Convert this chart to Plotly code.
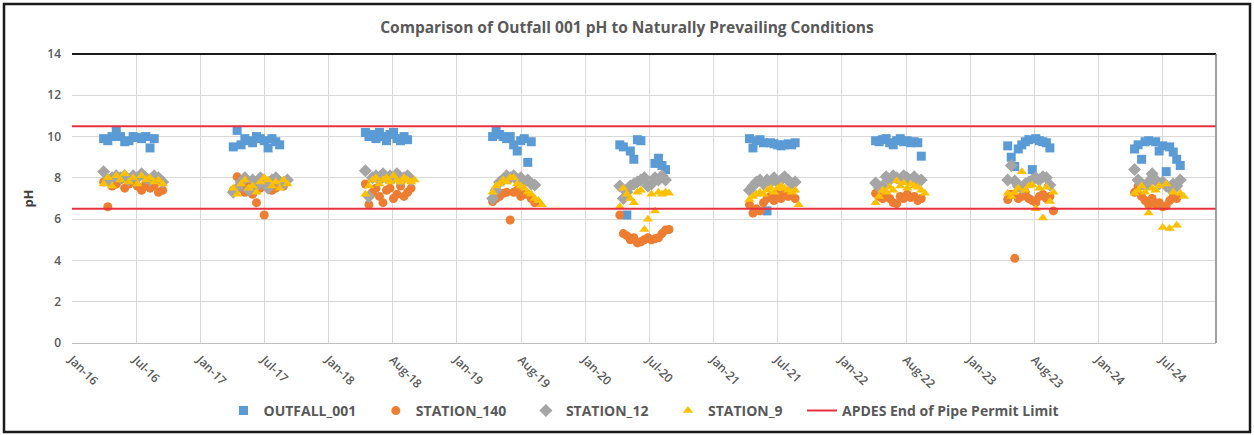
import plotly.graph_objects as go
import pandas as pd

# ---------------- data ----------------
tick_labels = ["Jan-16", "Jul-16", "Jan-17", "Jul-17", "Jan-18", "Aug-18", "Jan-19", "Aug-19",
               "Jan-20", "Jul-20", "Jan-21", "Jul-21", "Jan-22", "Aug-22", "Jan-23", "Aug-23",
               "Jan-24", "Jul-24"]

sample_dates = [
    "2016-04-30", "2016-05-12", "2016-05-24", "2016-06-05", "2016-06-17", "2016-06-29", "2016-07-11", "2016-07-23",
    "2016-08-04", "2016-08-16", "2016-08-28", "2016-09-09", "2016-09-21", "2016-10-03", "2016-10-15",
    "2017-05-04", "2017-05-15", "2017-05-26", "2017-06-06", "2017-06-17", "2017-06-28", "2017-07-09", "2017-07-20",
    "2017-07-31", "2017-08-11", "2017-08-22", "2017-09-02", "2017-09-13", "2017-09-24", "2017-10-05",
    "2018-05-15", "2018-05-25", "2018-06-04", "2018-06-14", "2018-06-24", "2018-07-04", "2018-07-14", "2018-07-24",
    "2018-08-03", "2018-08-13", "2018-08-23", "2018-09-02", "2018-09-12", "2018-09-22", "2018-10-02",
    "2019-05-12", "2019-05-22", "2019-06-01", "2019-06-11", "2019-06-21", "2019-07-01", "2019-07-11", "2019-07-21",
    "2019-07-31", "2019-08-10", "2019-08-20", "2019-08-30", "2019-09-09", "2019-09-19", "2019-09-29",
    "2020-05-08", "2020-05-18", "2020-05-28", "2020-06-07", "2020-06-17", "2020-06-27", "2020-07-07", "2020-07-17",
    "2020-07-27", "2020-08-06", "2020-08-16", "2020-08-26", "2020-09-05", "2020-09-15", "2020-09-25",
    "2021-05-12", "2021-05-22", "2021-06-01", "2021-06-11", "2021-06-21", "2021-07-01", "2021-07-11", "2021-07-21",
    "2021-07-31", "2021-08-10", "2021-08-20", "2021-08-30", "2021-09-09", "2021-09-19", "2021-09-29",
    "2022-05-06", "2022-05-16", "2022-05-26", "2022-06-05", "2022-06-15", "2022-06-25", "2022-07-05", "2022-07-15",
    "2022-07-25", "2022-08-04", "2022-08-14", "2022-08-24", "2022-09-03", "2022-09-13", "2022-09-23",
    "2023-05-17", "2023-05-27", "2023-06-06", "2023-06-16", "2023-06-26", "2023-07-06", "2023-07-16", "2023-07-26",
    "2023-08-05", "2023-08-15", "2023-08-25", "2023-09-04", "2023-09-14", "2023-09-24", "2023-10-04",
    "2024-05-12", "2024-05-22", "2024-06-01", "2024-06-11", "2024-06-21", "2024-07-01", "2024-07-11", "2024-07-21",
    "2024-07-31", "2024-08-10", "2024-08-20", "2024-08-30", "2024-09-09", "2024-09-19", "2024-09-29",
]

outfall_001 = [
    9.9, 9.8, 10.0, 10.3, 10.0, 9.75, 9.8, 10.0, 9.95, 9.9, 10.0, 9.45, 9.9, None, None,
    9.5, 10.3, 9.6, 9.9, 9.8, 9.7, 10.0, 9.9, 9.8, 9.45, 9.9, 9.75, 9.6, None, None,
    10.2, 10.0, 10.1, 9.9, 10.2, 10.0, 9.8, 10.1, 10.2, 9.9, 9.8, 10.0, 9.85, None, None,
    10.0, 10.3, 10.1, 10.0, 9.9, 10.0, 9.6, 9.3, 9.8, 9.9, 8.75, 9.75, None, None, None,
    9.6, 9.5, 6.2, 9.3, 8.9, 9.85, 9.8, None, None, None, 8.7, 8.95, 8.6, 8.4, None,
    9.9, 9.45, 9.8, 9.85, 9.7, 6.4, 9.7, 9.65, 9.6, 9.55, 9.6, 9.65, 9.6, 9.7, None,
    9.8, 9.75, 9.85, 9.9, 9.7, 9.6, 9.8, 9.9, 9.75, 9.8, 9.7, 9.75, 9.7, 9.05, None,
    9.55, 9.0, 8.55, 9.4, 9.6, 9.75, 9.85, 8.4, 9.9, 9.8, 9.75, 9.7, 9.45, None, None,
    9.4, 9.6, 8.9, 9.75, 9.8, 8.05, 9.75, 9.3, 9.55, 8.3, 9.5, 9.25, 8.9, 8.6, None,
]

station_140 = [
    7.8, 6.6, 7.6, 7.7, 7.9, 7.5, 7.7, 7.8, 7.6, 7.4, 7.7, 7.5, 7.6, 7.3, 7.4,
    7.4, 8.05, 7.5, 7.3, 7.6, 7.2, 6.8, 7.5, 6.2, 7.6, 7.4, 7.5, 7.7, 7.6, None,
    7.7, 6.7, 7.3, 7.5, 7.1, 6.8, 7.4, 7.5, 7.0, 7.2, 7.6, 7.1, 7.3, 7.5, None,
    6.85, 7.0, 7.1, 7.25, 7.3, 5.96, 7.3, 7.4, 7.1, 7.2, 7.2, 7.0, 6.8, None, None,
    6.2, 5.3, 5.2, 5.0, 5.1, 4.85, 4.9, 5.0, 5.1, 5.0, 5.05, 5.1, 5.3, 5.47, 5.5,
    6.7, 6.3, 6.5, 6.4, 6.8, 7.0, 7.1, 6.9, 7.2, 7.0, 7.3, 7.1, 7.2, 7.0, None,
    7.25, 7.1, 7.0, 7.2, 7.0, 6.8, 6.75, 7.1, 7.0, 7.2, 7.05, 7.1, 6.9, 7.0, None,
    6.95, 7.2, 4.1, 7.0, 7.1, 7.3, 7.0, 6.9, 6.8, 7.1, 7.2, 7.0, 7.1, 6.4, None,
    7.3, 7.6, 7.1, 6.9, 6.7, 7.0, 6.7, 6.8, 6.6, 6.65, 6.9, 7.1, 7.0, None, None,
]

station_12 = [
    8.3, 7.9, 8.0, 8.1, 8.0, 8.1, 7.9, 8.1, 8.0, 8.2, 8.0, 7.9, 8.1, 8.0, 7.8,
    7.3, 7.5, 7.8, 8.0, 7.4, 7.9, 7.6, 8.0, 7.7, 7.5, 7.9, 8.0, 7.8, 7.7, 7.9,
    8.35, 7.1, 8.0, 8.1, 7.9, 8.2, 8.0, 8.1, 8.0, 8.2, 7.9, 8.0, 8.1, 7.9, None,
    7.0, 7.4, 7.8, 7.9, 8.1, 8.0, 8.1, 7.9, 8.0, 7.8, 7.9, 7.7, 7.65, None, None,
    7.6, 7.0, 7.3, 7.6, 7.7, 7.8, 7.9, 8.0, 7.6, 7.7, 8.0, 7.9, 8.1, 7.9, None,
    7.4, 7.6, 7.8, 7.9, 7.7, 7.9, 7.8, 8.0, 7.8, 7.9, 8.05, 7.9, 7.7, 7.8, None,
    7.75, 7.55, 7.6, 8.05, 7.9, 8.1, 8.0, 7.9, 8.1, 8.0, 7.9, 8.05, 7.85, 7.9, None,
    7.9, 8.6, 7.85, 7.6, 7.5, 7.7, 7.8, 7.9, 8.0, 7.9, 8.05, 8.0, 7.65, None, None,
    8.4, 7.9, 7.7, 7.6, 7.8, 8.2, 7.9, 7.7, 7.8, 7.6, 7.5, 7.7, 7.6, 7.9, None,
]

station_9 = [
    7.7, 8.0, 7.6, 8.1, 7.9, 8.2, 7.8, 8.0, 7.7, 8.1, 7.9, 8.0, 7.8, 7.9, 7.7,
    7.5, 7.2, 7.7, 7.9, 7.5, 7.6, 7.3, 7.8, 8.0, 7.9, 7.6, 7.8, 7.5, 7.9, 7.7,
    7.2, 7.6, 7.9, 8.0, 7.7, 7.9, 8.0, 7.8, 8.1, 7.9, 7.8, 8.0, 7.9, 7.8, 7.9,
    7.3, 7.6, 7.7, 7.9, 7.8, 8.0, 8.0, 7.7, 7.6, 7.5, 7.3, 7.2, 7.0, 6.9, 6.7,
    6.6, 7.5, 7.2, 7.0, 6.8, 7.3, 7.4, 5.5, 6.0, 7.2, 6.4, 7.3, 7.2, 7.3, 7.25,
    6.95, 7.1, 7.2, 7.3, 7.2, 7.4, 7.5, 7.3, 7.5, 7.6, 7.5, 7.4, 7.3, 7.4, 6.7,
    6.8, 7.1, 7.4, 7.3, 7.55, 7.4, 7.85, 7.6, 7.75, 7.5, 7.7, 7.6, 7.55, 7.4, 7.25,
    7.25, 7.1, 7.3, 7.5, 8.3, 7.4, 7.6, 7.65, 6.5, 7.5, 6.05, 7.55, 6.85, 7.3, None,
    7.25, 7.4, 7.6, 7.3, 6.3, 7.5, 7.4, 7.6, 5.6, 7.7, 5.55, 7.3, 5.7, 7.25, 7.1,
]

permit_limits = [10.5, 6.5]

# ---------------- axis geometry ----------------
axis_start = pd.Timestamp("2016-01-31")
tick_step = pd.Timedelta(days=182.6)
tick_vals = [axis_start + i * tick_step for i in range(len(tick_labels))]
axis_end = axis_start + tick_step * 17.83

dates = pd.to_datetime(sample_dates)

FONT = "Open Sans"
GREY_TXT = "#595959"
PAD = "\u00a0" * 4

fig = go.Figure()

series = [
    ("OUTFALL_001", outfall_001, "#5B9BD5", "square", 9),
    ("STATION_140", station_140, "#ED7D31", "circle", 9),
    ("STATION_12", station_12, "#A5A5A5", "diamond", 10),
    ("STATION_9", station_9, "#FFC000", "triangle-up", 9),
]
for name, vals, color, symbol, size in series:
    fig.add_trace(go.Scatter(
        x=dates, y=vals, mode="markers", name=name + PAD,
        marker=dict(color=color, symbol=symbol, size=size, line=dict(width=0)),
    ))

lx, ly = [], []
for lim in permit_limits:
    lx += [axis_start, axis_end, None]
    ly += [lim, lim, None]
fig.add_trace(go.Scatter(
    x=lx, y=ly, mode="lines", name="APDES End of Pipe Permit Limit",
    line=dict(color="#E8313F", width=2),
))

W, H = 1254, 435
L, R, T, B = 72, 38, 54, 92
pw, ph = W - L - R, H - T - B

def px_x(p):
    return (p - L) / pw

def px_y(p):
    return (H - B - p) / ph

fig.update_layout(
    width=W, height=H,
    margin=dict(l=L, r=R, t=T, b=B, autoexpand=False),
    paper_bgcolor="white", plot_bgcolor="white",
    font=dict(family=FONT, color=GREY_TXT),
    title=dict(
        text="Comparison of Outfall 001 pH to Naturally Prevailing Conditions",
        x=0.5, xref="container", y=1 - 28 / H, yref="container",
        xanchor="center", yanchor="middle",
        font=dict(family=FONT, size=15.5, color=GREY_TXT, weight="bold"),
    ),
    xaxis=dict(
        type="date", range=[axis_start, axis_end],
        tickmode="array", tickvals=tick_vals, ticktext=tick_labels,
        tickangle=45, showgrid=True, gridcolor="#D9D9D9", gridwidth=1,
        showline=True, linecolor="#BFBFBF", linewidth=1, zeroline=False,
        tickfont=dict(family=FONT, size=12, color=GREY_TXT, weight=600),
        ticks="", ticklabelstandoff=4,
    ),
    yaxis=dict(
        range=[0, 14], dtick=2, tick0=0,
        showgrid=True, gridcolor="#D9D9D9", gridwidth=1, zeroline=False,
        tickfont=dict(family=FONT, size=12, color=GREY_TXT, weight=600),
        ticks="", ticklabelstandoff=10,
        title=dict(text="pH", font=dict(family=FONT, size=13, color="#404040", weight="bold"), standoff=10),
    ),
    legend=dict(
        orientation="h", x=0.5, xanchor="center", y=px_y(411), yanchor="middle",
        font=dict(family=FONT, size=14, color=GREY_TXT, weight="bold"),
        itemwidth=30, tracegroupgap=0,
    ),
    showlegend=True,
    shapes=[
        dict(type="line", xref="paper", yref="paper", x0=0, x1=1, y0=1, y1=1,
             line=dict(color="#1A1A1A", width=2)),
        dict(type="line", xref="paper", yref="paper", x0=1, x1=1, y0=0, y1=1,
             line=dict(color="#808080", width=1.5)),
        dict(type="rect", xref="paper", yref="paper",
             x0=px_x(4), x1=px_x(1250), y0=px_y(432), y1=px_y(4),
             line=dict(color="#1A1A1A", width=2.5), fillcolor="rgba(0,0,0,0)", layer="above"),
    ],
)

fig.write_html(
    "out.html",
    config={"displayModeBar": False},
    post_script="document.body.style.margin='0px';document.body.style.overflow='hidden';",
)
